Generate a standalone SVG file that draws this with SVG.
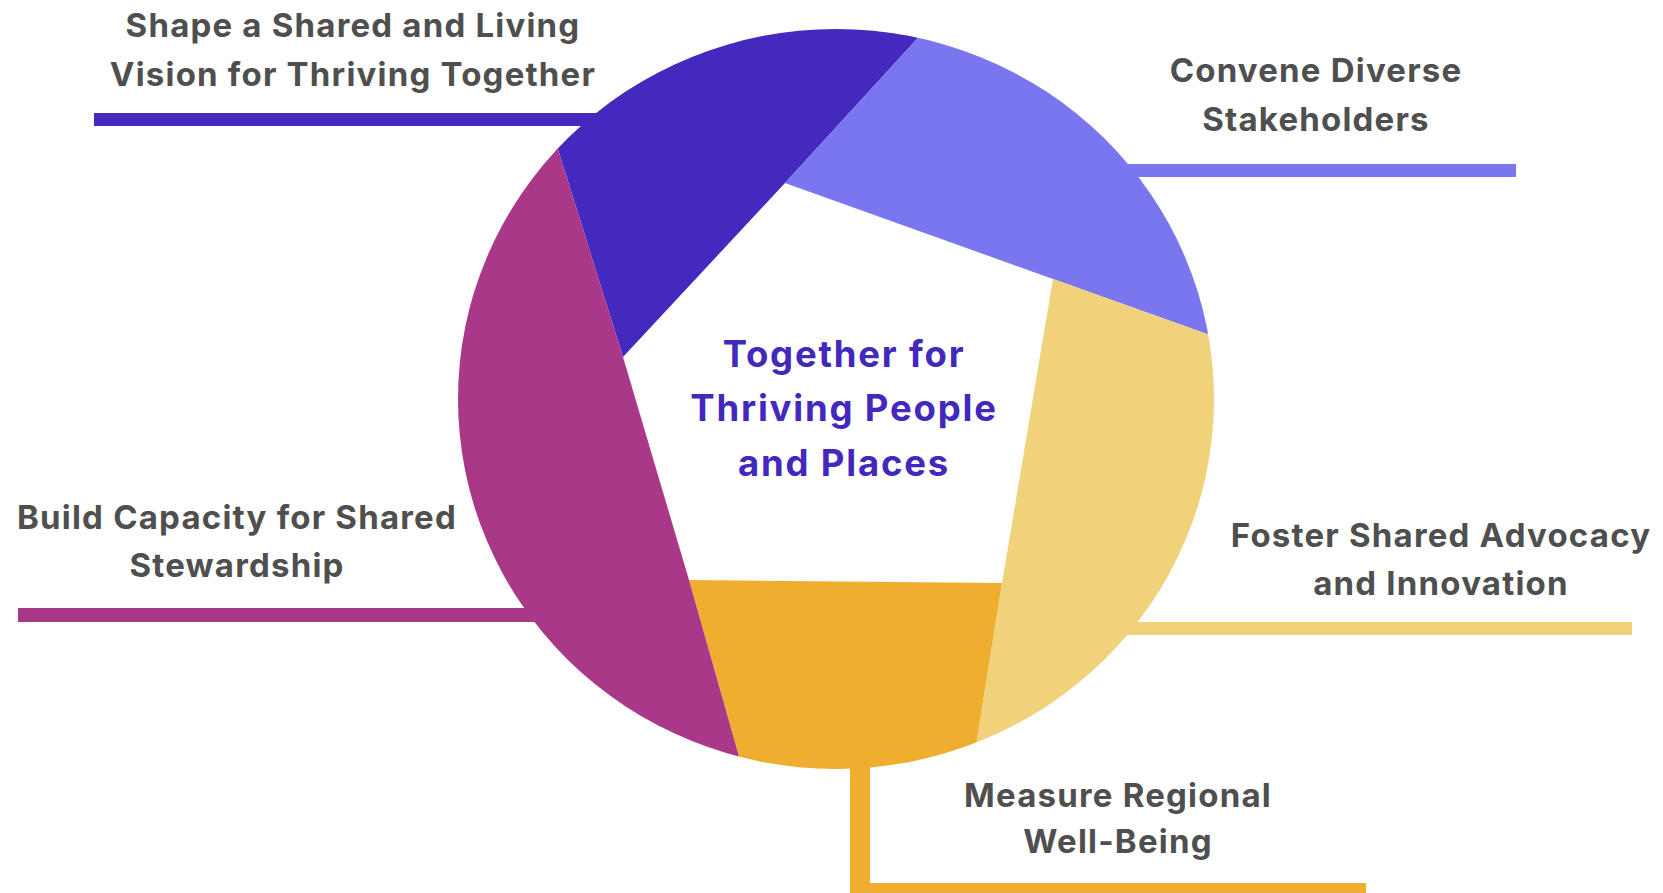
<svg xmlns="http://www.w3.org/2000/svg" width="1663" height="893" viewBox="0 0 1663 893">
  <defs>
    <clipPath id="ring">
      <ellipse cx="836" cy="399" rx="378" ry="370"/>
    </clipPath>
    <style>
      .lbl { font-family: Inter, "Liberation Sans", sans-serif; font-weight: 700; font-size: 33px; letter-spacing: 1.2px; fill: #4F4F4F; text-anchor: middle; }
      .ctr { font-family: Inter, "Liberation Sans", sans-serif; font-weight: 700; font-size: 36.5px; letter-spacing: 1.8px; fill: #4328BE; text-anchor: middle; }
      .c-blue { fill: #4529BF; }
      .c-lav { fill: #7A76F0; }
      .c-yel { fill: #F0D27A; }
      .c-org { fill: #F0AE30; }
      .c-mag { fill: #AA3889; }
    </style>
  </defs>
  <rect x="0" y="0" width="1663" height="893" fill="#FFFFFF"/>

  <g id="connectors">
    <rect class="c-blue" x="94" y="113" width="510" height="13"/>
    <rect class="c-lav" x="1110" y="164" width="406" height="13"/>
    <rect class="c-mag" x="18" y="608" width="530" height="14"/>
    <rect class="c-yel" x="1110" y="622" width="522" height="13"/>
    <rect class="c-org" x="850" y="730" width="20" height="163"/>
    <rect class="c-org" x="850" y="883" width="516" height="12"/>
  </g>

  <g id="blades" clip-path="url(#ring)">
    <g id="node-vision">
      <polygon class="c-blue" points="623,357 785,183 971,-20 505,-20"/>
    </g>
    <g id="node-convene">
      <polygon class="c-lav" points="785,183 1053,279 1260,353 1260,-20 971,-20"/>
    </g>
    <g id="node-advocacy">
      <polygon class="c-yel" points="1053,279 1002,583 964,820 1260,820 1260,353"/>
    </g>
    <g id="node-measure">
      <polygon class="c-org" points="1002,583 689,580 757,820 964,820"/>
    </g>
    <g id="node-capacity">
      <polygon class="c-mag" points="689,580 623,357 505,-20 400,-20 400,820 757,820"/>
    </g>
  </g>

  <g id="label-vision">
    <text class="lbl" x="353" y="37">Shape a Shared and Living</text>
    <text class="lbl" x="353" y="86">Vision for Thriving Together</text>
  </g>
  <g id="label-convene">
    <text class="lbl" x="1316" y="82">Convene Diverse</text>
    <text class="lbl" x="1316" y="131">Stakeholders</text>
  </g>
  <g id="label-capacity">
    <text class="lbl" x="237" y="529">Build Capacity for Shared</text>
    <text class="lbl" x="237" y="577">Stewardship</text>
  </g>
  <g id="label-advocacy">
    <text class="lbl" x="1441" y="547">Foster Shared Advocacy</text>
    <text class="lbl" x="1441" y="595">and Innovation</text>
  </g>
  <g id="label-measure">
    <text class="lbl" x="1118" y="807">Measure Regional</text>
    <text class="lbl" x="1118" y="853">Well-Being</text>
  </g>
  <g id="center">
    <text class="ctr" x="844" y="367">Together for</text>
    <text class="ctr" x="844" y="421">Thriving People</text>
    <text class="ctr" x="844" y="476">and Places</text>
  </g>
</svg>
